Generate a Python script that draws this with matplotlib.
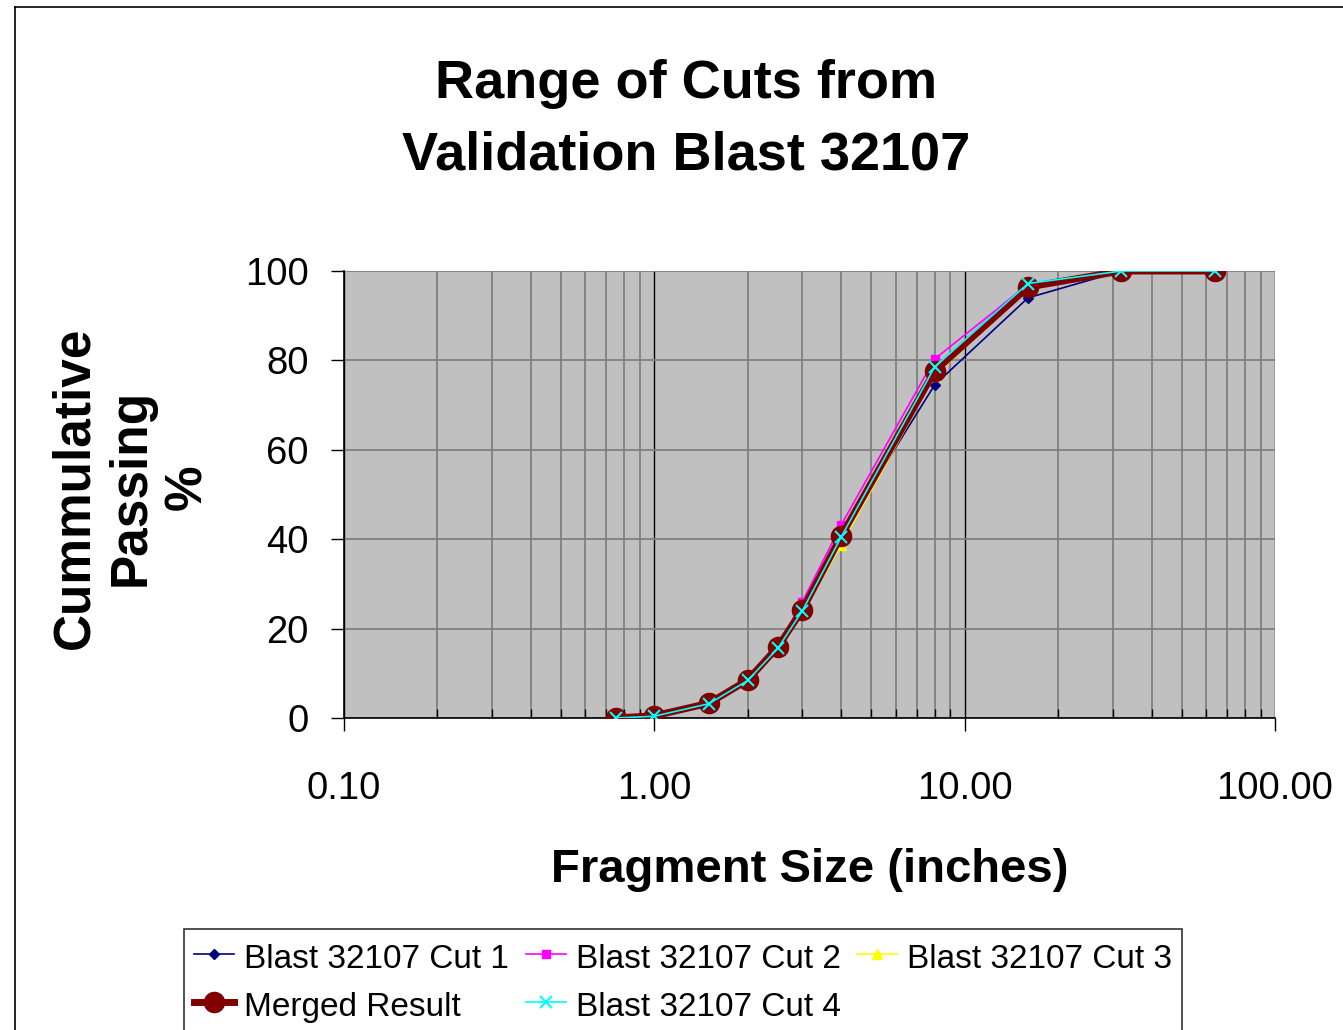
import numpy as np
import matplotlib
matplotlib.use("Agg")
import matplotlib.pyplot as plt
from matplotlib.lines import Line2D
from matplotlib.ticker import FixedLocator, FormatStrFormatter, LogLocator, NullFormatter

plt.rcParams['font.family'] = ['Liberation Sans', 'DejaVu Sans']

## DATA
sizes = [0.75, 1, 1.5, 2, 2.5, 3, 4, 8, 16, 32, 64]
cut1 = [0, 0.5, 3.2, 8.3, 15.5, 24.0, 41.0, 74.5, 94.0, 100, 100]
cut2 = [0, 0.6, 3.5, 8.8, 16.2, 26.0, 43.2, 80.3, 97.0, 100, 100]
cut3 = [0, 0.3, 3.0, 8.0, 15.0, 23.3, 38.8, 76.5, 96.5, 100, 100]
merged = [0, 0.5, 3.3, 8.5, 15.9, 24.2, 40.7, 77.6, 96.4, 100, 100]
cut4 = [0, 0.4, 3.2, 8.4, 15.6, 24.0, 40.5, 78.5, 97.2, 100, 100]

x_ticks = [0.1, 1, 10, 100]
y_ticks = [0, 20, 40, 60, 80, 100]

W, H = 1343, 1030
fig = plt.figure(figsize=(W / 100, H / 100), dpi=100)
ax = fig.add_axes([344 / W, 1 - 718 / H, (1275 - 344) / W, (718 - 271) / H])
ax.set_facecolor('#C0C0C0')

# series, in Excel order
ax.plot(sizes, cut1, color='#000080', lw=1.2, marker='D', ms=5, label='Blast 32107 Cut 1', zorder=3)
ax.plot(sizes, cut2, color='#FF00FF', lw=1.2, marker='s', ms=6, label='Blast 32107 Cut 2', zorder=3)
ax.plot(sizes, cut3, color='#FFFF00', lw=1.2, marker='^', ms=7, label='Blast 32107 Cut 3', zorder=3)
ax.plot(sizes, merged, color='#800000', lw=5, marker='o', ms=14.5, label='Merged Result', zorder=4)
ax.plot(sizes, cut4, color='#00FFFF', lw=1.2, marker='x', ms=9, mew=1.5, label='Blast 32107 Cut 4', zorder=5)

ax.set_xscale('log')
ax.set_xlim(0.1, 100)
ax.set_ylim(0, 100)

ax.xaxis.set_major_locator(FixedLocator(x_ticks))
ax.xaxis.set_major_formatter(FormatStrFormatter('%.2f'))
ax.xaxis.set_minor_locator(LogLocator(base=10, subs=np.arange(2, 10)))
ax.xaxis.set_minor_formatter(NullFormatter())
ax.yaxis.set_major_locator(FixedLocator(y_ticks))

ax.grid(which='major', axis='x', color='black', lw=1.0)
ax.grid(which='minor', axis='x', color='#808080', lw=1.3)
ax.grid(which='major', axis='y', color='#808080', lw=1.3)
ax.set_axisbelow(True)

for s in ['top', 'right']:
    ax.spines[s].set_visible(False)
for s in ['left', 'bottom']:
    ax.spines[s].set_color('black')
    ax.spines[s].set_linewidth(1.2)

ax.tick_params(axis='x', which='major', direction='out', length=9.5, width=1, labelsize=27.5, pad=29)
ax.tick_params(axis='x', which='minor', direction='in', length=6.5, width=1)
ax.tick_params(axis='y', which='major', direction='out', length=9.5, width=1, labelsize=27.5, pad=16)

ax.set_xlabel('Fragment Size (inches)', fontsize=34, fontweight='bold')
ax.xaxis.set_label_coords(0.5, (718 - 870) / 447)
ax.xaxis.label.set_va('center')

ax.set_ylabel('Cummulative\nPassing\n%', fontsize=37, fontweight='bold', linespacing=1.2)
ax.yaxis.set_label_coords((131 - 344) / 931, 0.5 + 7 / 447)
ax.yaxis.label.set_va('center')

fig.text(686 / W, 1 - 119.5 / H, 'Range of Cuts from\nValidation Blast 32107',
         fontsize=39, fontweight='bold', ha='center', va='center', linespacing=1.56)

# legend laid out row-wise like the original
h, l = ax.get_legend_handles_labels()
order = [0, 3, 1, 4, 2]
leg = fig.legend([h[i] for i in order], [l[i] for i in order], ncol=3,
                 loc='upper left', bbox_to_anchor=(184 / W, 1 - 929 / H),
                 fontsize=24, frameon=True, fancybox=False, edgecolor='black',
                 handlelength=1.2, handleheight=1.3, handletextpad=0.3, columnspacing=0.5,
                 labelspacing=0.35, borderpad=0.3, borderaxespad=0)
leg.get_frame().set_linewidth(1.2)

# chart area border
fig.add_artist(Line2D([15 / W, 15 / W], [0, 1 - 7 / H], color='black', lw=1.2))
fig.add_artist(Line2D([15 / W, 1], [1 - 7 / H, 1 - 7 / H], color='black', lw=1.2))

fig.savefig('out.png', dpi=100)
